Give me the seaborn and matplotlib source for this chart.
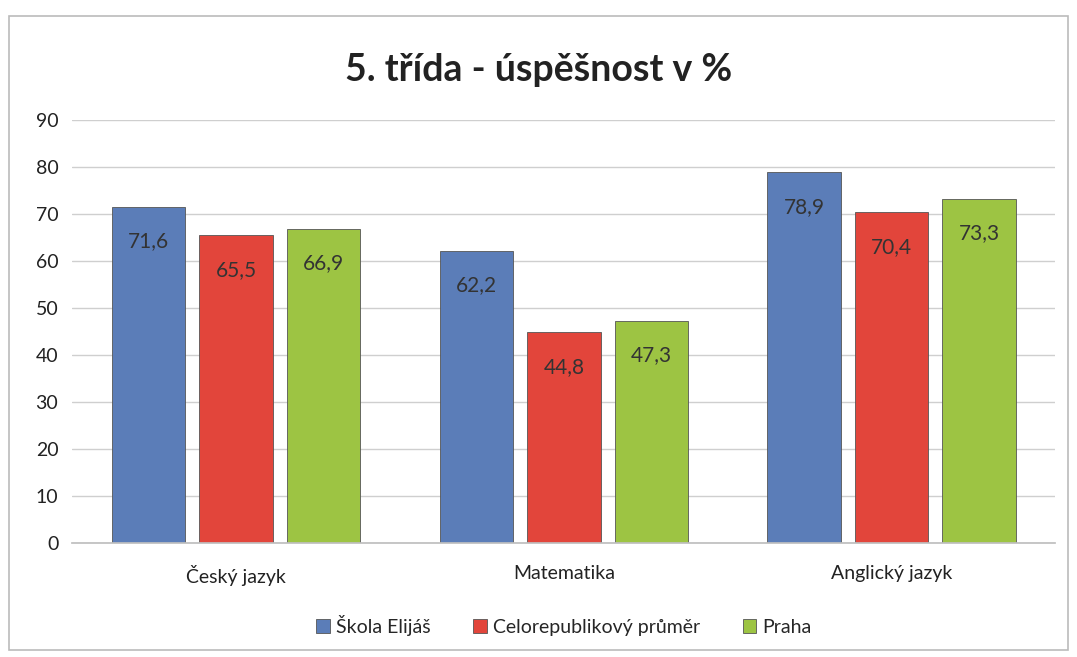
import matplotlib
matplotlib.use("Agg")
import matplotlib.pyplot as plt
import pandas as pd
import seaborn as sns
from matplotlib.patches import Rectangle

categories = ["Český jazyk", "Matematika", "Anglický jazyk"]
series = ["Škola Elijáš", "Celorepublikový průměr", "Praha"]
skola = [71.6, 62.2, 78.9]
cr_prumer = [65.5, 44.8, 70.4]
praha = [66.9, 47.3, 73.3]
colors = ["#5B7DB8", "#E2453B", "#9DC443"]

df = pd.DataFrame({
    "predmet": categories * 3,
    "skupina": [s for s in series for _ in categories],
    "hodnota": skola + cr_prumer + praha,
})

sns.set_theme(style="white")
plt.rcParams["font.family"] = ["Lato", "DejaVu Sans"]

fig = plt.figure(figsize=(10.77, 6.57), dpi=100)
ax = fig.add_axes([0.067, 0.174, 0.913, 0.643])

sns.barplot(data=df, x="predmet", y="hodnota", hue="skupina",
            palette=colors, saturation=1, width=0.8, gap=0.16, ax=ax,
            edgecolor="#555555", linewidth=0.6, legend=True)

ax.set_ylim(0, 90)
ax.set_yticks(range(0, 91, 10))
ax.yaxis.grid(True, color="#cfcfcf", linewidth=1)
ax.set_axisbelow(True)
for s in ["top", "right", "left"]:
    ax.spines[s].set_visible(False)
ax.spines["bottom"].set_color("#bfbfbf")
ax.set_xlabel("")
ax.set_ylabel("")
ax.tick_params(axis="y", labelsize=14, colors="#222222", length=0, pad=10)
ax.tick_params(axis="x", labelsize=14, colors="#222222", length=0, pad=16)

for cont in ax.containers:
    ax.bar_label(cont, labels=[f"{v:.1f}".replace(".", ",") for v in cont.datavalues],
                 label_type="edge", padding=-32, fontsize=15, color="#333333")

fig.suptitle("5. třída - úspěšnost v %", y=0.893, va="center", fontsize=27,
             fontweight="bold", color="#222222")

ax.legend(loc="center", bbox_to_anchor=(0.5, -0.195), ncol=3, frameon=False,
          fontsize=14, handlelength=0.7, handleheight=0.7, handletextpad=0.3,
          columnspacing=2.2)

fig.patches.append(Rectangle((0.008, 0.01), 0.984, 0.965, transform=fig.transFigure,
                             fill=False, edgecolor="#bbbbbb", linewidth=1.2))

fig.savefig("out.png", dpi=100)
